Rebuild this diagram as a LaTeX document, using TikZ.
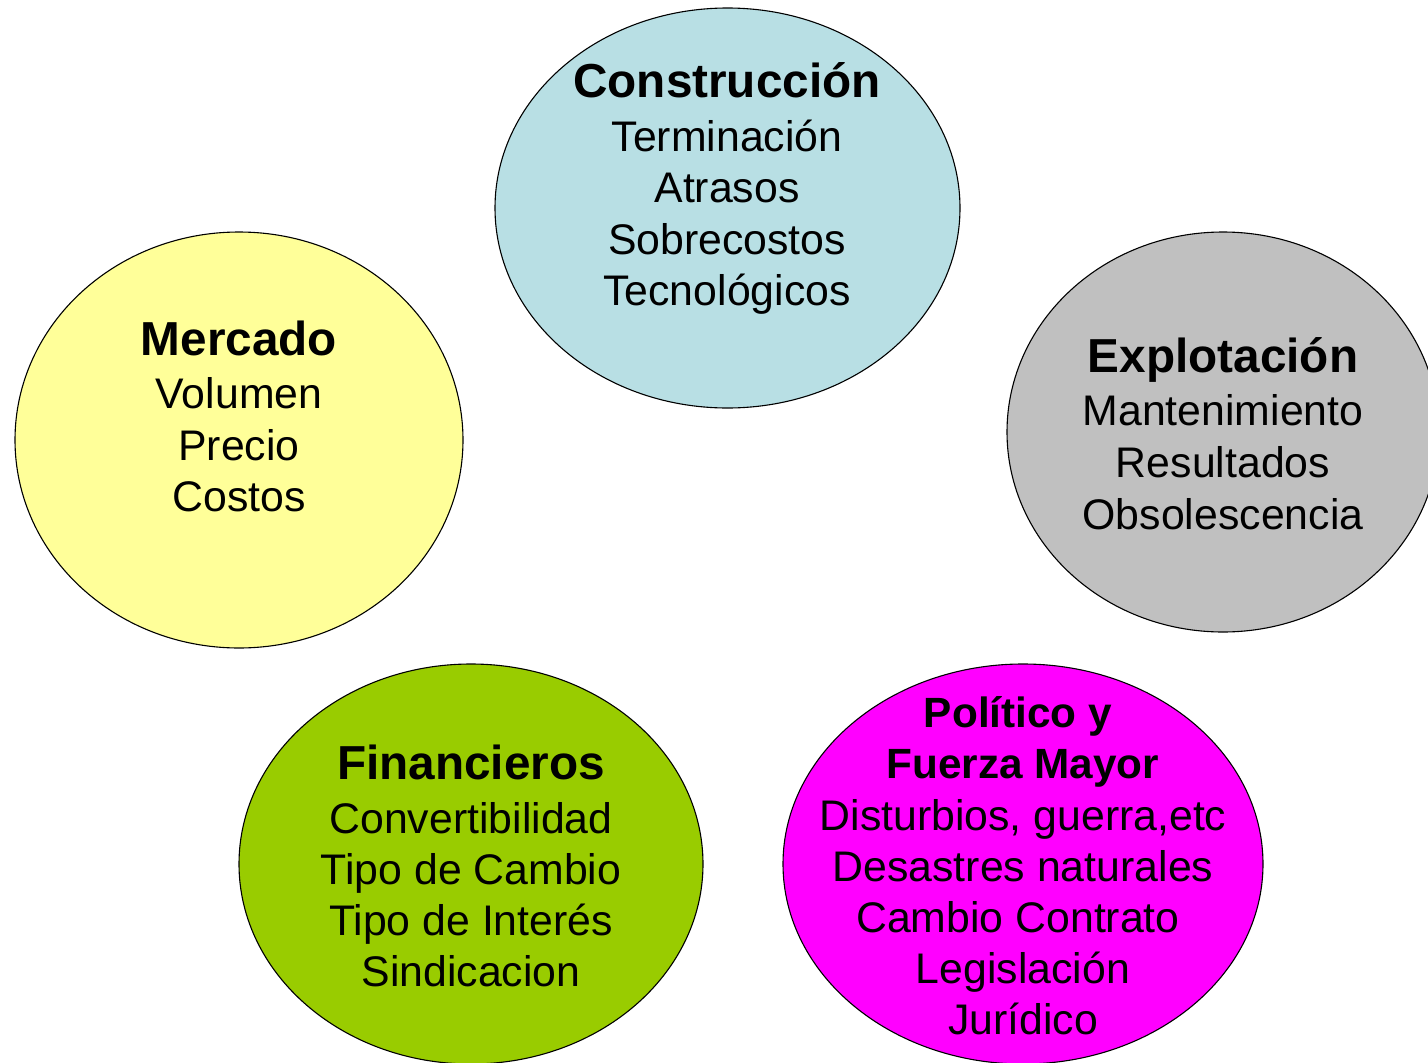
\documentclass[tikz,border=0pt]{standalone}
\usepackage{fontspec}
\setmainfont{Liberation Sans}
\usetikzlibrary{shapes.geometric}
\definecolor{cblue}{HTML}{B8DFE4}
\definecolor{cyellow}{HTML}{FFFF99}
\definecolor{cgray}{HTML}{C0C0C0}
\definecolor{cgreen}{HTML}{99CC00}
\definecolor{cmag}{HTML}{FF00FF}
\tikzset{
  bubble/.style={ellipse, draw=black, line width=1.1pt, inner sep=0pt},
  ttl/.style={anchor=base, font=\fontsize{47.7}{52}\selectfont\bfseries},
  ttlsm/.style={anchor=base, font=\fontsize{42.3}{50}\selectfont\bfseries},
  itm/.style={anchor=base, font=\fontsize{42.8}{50}\selectfont},
}
\begin{document}
\begin{tikzpicture}[x=1pt,y=-1pt]
\useasboundingbox (0,0) rectangle (1428,1063);
\clip (0,0) rectangle (1428,1063);
\fill[white] (0,0) rectangle (1428,1063);
% ellipses
\node[bubble, fill=cblue, minimum width=465pt, minimum height=400pt] (econ) at (727.5,208) {};
\node[bubble, fill=cyellow, minimum width=448pt, minimum height=416pt] (emer) at (239,440) {};
\node[bubble, fill=cgray, minimum width=432pt, minimum height=400pt] (eexp) at (1223,432) {};
\node[bubble, fill=cgreen, minimum width=464pt, minimum height=400pt] (efin) at (471,864) {};
\node[bubble, fill=cmag, minimum width=480pt, minimum height=400pt] (epol) at (1023,864) {};
% Construccion
\node[ttl] (c0) at (727,97) {Construcción};
\node[itm] (c1) at (727,151) {Terminación};
\node[itm] (c2) at (727,202) {Atrasos};
\node[itm] (c3) at (727,254) {Sobrecostos};
\node[itm] (c4) at (727,305) {Tecnológicos};
% Mercado
\node[ttl] (m0) at (239,355) {Mercado};
\node[itm] (m1) at (239,408) {Volumen};
\node[itm] (m2) at (239,460) {Precio};
\node[itm] (m3) at (239,511) {Costos};
% Explotacion
\node[ttl] (x0) at (1223,372) {Explotación};
\node[itm] (x1) at (1223,425) {Mantenimiento};
\node[itm] (x2) at (1223,477) {Resultados};
\node[itm] (x3) at (1223,529) {Obsolescencia};
% Financieros
\node[ttl] (f0) at (471,779) {Financieros};
\node[itm] (f1) at (471,833) {Convertibilidad};
\node[itm] (f2) at (471,884) {Tipo de Cambio};
\node[itm] (f3) at (471,935) {Tipo de Interés};
\node[itm] (f4) at (471,986) {Sindicacion};
% Politico
\node[ttlsm] (p0) at (1018,727) {Político y};
\node[ttlsm] (p1) at (1023,778) {Fuerza Mayor};
\node[itm] (p2) at (1023,830) {Disturbios, guerra,etc};
\node[itm] (p3) at (1023,881) {Desastres naturales};
\node[itm] (p4) at (1018,932) {Cambio Contrato};
\node[itm] (p5) at (1023,983) {Legislación};
\node[itm] (p6) at (1023,1034) {Jurídico};
\end{tikzpicture}
\end{document}
